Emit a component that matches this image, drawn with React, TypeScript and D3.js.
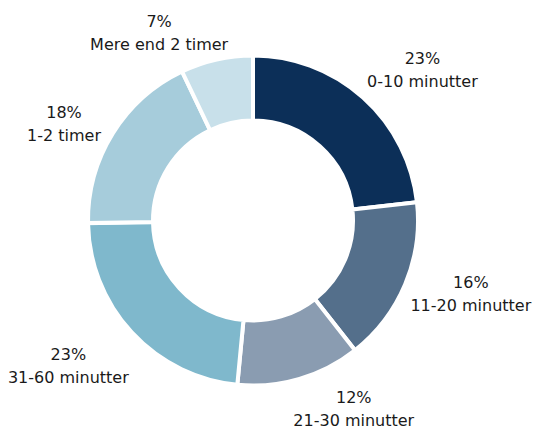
import React from "react";
import * as d3 from "d3";

const categories = ["0-10 minutter", "11-20 minutter", "21-30 minutter", "31-60 minutter", "1-2 timer", "Mere end 2 timer"];
const values = [23, 16, 12, 23, 18, 7];
const colors = ["#0c2f58", "#546f8b", "#8a9cb1", "#7fb8cc", "#a6ccdb", "#c8e0ea"];
// label placement nudges (px) relative to default outside-end placement
const labelNudge: [number, number][] = [
  [12, 0],
  [-4, -5],
  [33, -7],
  [-8, 7],
  [-3, 10],
  [-39, 10],
];

const W = 536;
const H = 430;
const cx = 253;
const cy = 220.5;
const outerR = 165;
const innerR = 100;
const labelR = 180;
const lineH = 23;
const fontSize = 16;

export default function App() {
  const data = categories.map((c, i) => ({ c, v: values[i], i }));
  const pie = d3.pie<any>().value((d) => d.v).sort(null).startAngle(0).endAngle(2 * Math.PI);
  const arcs = pie(data);
  const arc = d3.arc<any>().innerRadius(innerR).outerRadius(outerR);
  const widthEst = (s: string) => s.length * fontSize * 0.54;

  return (
    <svg
      width={W}
      height={H}
      style={{ position: "absolute", left: 0, top: 0, background: "#fff" }}
      fontFamily="'DejaVu Sans', Verdana, sans-serif"
      fontSize={fontSize}
    >
      <g transform={`translate(${cx},${cy})`}>
        {arcs.map((a, i) => (
          <path key={i} d={arc(a) || ""} fill={colors[i]} stroke="#fff" strokeWidth={4} strokeLinejoin="miter" />
        ))}
        {arcs.map((a, i) => {
          const mid = (a.startAngle + a.endAngle) / 2;
          const s = Math.sin(mid);
          const c = Math.cos(mid);
          const w = Math.max(widthEst(a.data.c), widthEst(`${a.data.v}%`));
          const h = 46;
          const bx = labelR * s + (w / 2) * s + labelNudge[i][0];
          const by = -labelR * c - (h / 2) * c + labelNudge[i][1];
          const base1 = by - 5.5;
          return (
            <g key={`l${i}`} textAnchor="middle" fill="#1a1a1a">
              <text x={bx} y={base1}>{`${a.data.v}%`}</text>
              <text x={bx} y={base1 + lineH}>{a.data.c}</text>
            </g>
          );
        })}
      </g>
    </svg>
  );
}
